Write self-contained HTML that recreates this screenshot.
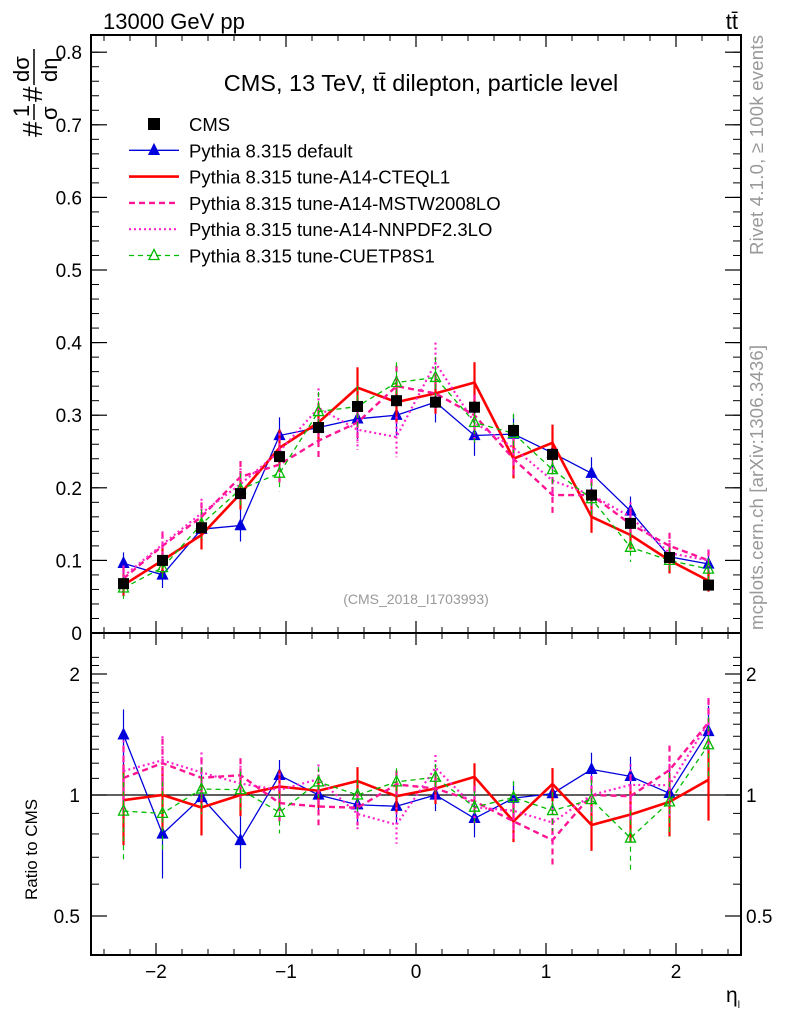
<!DOCTYPE html>
<html><head><meta charset="utf-8"><style>
body{margin:0;background:#fff;}
svg{display:block;font-family:"Liberation Sans",sans-serif;}
</style></head><body>
<svg id="chart" width="786" height="1024" viewBox="0 0 786 1024">
<rect width="786" height="1024" fill="#fff"/>
<text x="103" y="29" font-size="22">13000 GeV pp</text>
<text x="738" y="29" font-size="22" text-anchor="end">tt̄</text>
<text x="421" y="91" font-size="23.5" text-anchor="middle">CMS, 13 TeV, tt̄ dilepton, particle level</text>
<text x="416" y="604" font-size="14" fill="#999" text-anchor="middle">(CMS_2018_I1703993)</text>
<text transform="translate(763,255) rotate(-90)" font-size="18.5" fill="#999" textLength="220">Rivet 4.1.0, ≥ 100k events</text>
<text transform="translate(763,630) rotate(-90)" font-size="18.5" fill="#999" textLength="285">mcplots.cern.ch [arXiv:1306.3436]</text>
<text transform="translate(37,900) rotate(-90)" font-size="17">Ratio to CMS</text>
<g transform="translate(42,137) rotate(-90)" font-size="28">
<text x="0" y="0">#</text><text x="20" y="-13" font-size="22">1</text><line x1="17" y1="-8" x2="33" y2="-8" stroke="#000" stroke-width="1.5"/><text x="17" y="15" font-size="22">σ</text>
<text x="35" y="0">#</text><text x="55" y="-13" font-size="22">dσ</text><line x1="52" y1="-8" x2="88" y2="-8" stroke="#000" stroke-width="1.5"/><text x="55" y="15" font-size="22">dη</text>
</g>
<text x="726" y="1002" font-size="21">η<tspan font-size="10" dy="6">l</tspan></text>
<g id="plot"></g>
</svg>
<script>
const etaCenters=[-2.25,-1.95,-1.65,-1.35,-1.05,-0.75,-0.45,-0.15,0.15,0.45,0.75,1.05,1.35,1.65,1.95,2.25];
const cmsVals=[0.068,0.100,0.145,0.192,0.243,0.283,0.312,0.320,0.318,0.311,0.279,0.246,0.190,0.151,0.104,0.066];
const cmsErr=[0.006,0.006,0.007,0.008,0.008,0.008,0.008,0.008,0.008,0.008,0.008,0.008,0.008,0.007,0.006,0.006];
const defVals=[0.096,0.080,0.143,0.148,0.272,0.283,0.295,0.300,0.318,0.272,0.274,0.248,0.220,0.168,0.105,0.095];
const cteqVals=[0.066,0.100,0.135,0.192,0.255,0.290,0.338,0.318,0.330,0.345,0.240,0.262,0.160,0.135,0.100,0.072];
const mstwVals=[0.075,0.120,0.160,0.215,0.232,0.265,0.290,0.340,0.330,0.300,0.240,0.190,0.190,0.150,0.120,0.100];
const nnpdfVals=[0.078,0.122,0.165,0.205,0.250,0.310,0.280,0.270,0.372,0.290,0.255,0.210,0.190,0.160,0.110,0.100];
const cuetVals=[0.062,0.090,0.150,0.198,0.220,0.305,0.312,0.345,0.352,0.290,0.275,0.225,0.185,0.118,0.100,0.088];
const mcErr=[0.015,0.018,0.020,0.022,0.025,0.027,0.028,0.028,0.028,0.028,0.027,0.025,0.022,0.020,0.018,0.015];
const xTicks=[-2,-1,0,1,2];
const yTicks=[0,0.1,0.2,0.3,0.4,0.5,0.6,0.7,0.8];
const yTickLabels=["0","0.1","0.2","0.3","0.4","0.5","0.6","0.7","0.8"];
const rTicks=[0.5,1,2];
const rTickLabels=["0.5","1","2"];

const L=91,R=741,T=35,MB=633,RB=955;
const sx=v=>L+(v+2.5)/5*(R-L);
const sy=v=>633-v*726;
const sr=v=>795-121*Math.log2(v);
const NS="http://www.w3.org/2000/svg";
const g=document.getElementById('plot');
function mk(tag,attrs,parent){const e=document.createElementNS(NS,tag);for(const k in attrs)e.setAttribute(k,attrs[k]);(parent||g).appendChild(e);return e;}

const series=[
 {vals:defVals,color:'#0000dd',w:1.3,dash:'',marker:'tri',name:'default'},
 {vals:cteqVals,color:'#ff0000',w:2.6,dash:'',marker:'',name:'cteql1'},
 {vals:mstwVals,color:'#ff1493',w:2.4,dash:'6,4',marker:'',name:'mstw2008lo'},
 {vals:nnpdfVals,color:'#ff22cc',w:2.2,dash:'2,3',marker:'',name:'nnpdf23lo'},
 {vals:cuetVals,color:'#00bb00',w:1.3,dash:'5,4',marker:'otri',name:'cuetp8s1'}
];
function tri(x,y,c,open,parent,name){const p=mk('polygon',{points:`${x},${y-6} ${x-5},${y+4} ${x+5},${y+4}`,fill:open?'none':c,stroke:c,'stroke-width':1.3},parent);}

function drawPanel(clipId,yTop,yBot,f,ratio){
 const cp=mk('clipPath',{id:clipId});
 mk('rect',{x:L,y:yTop,width:R-L,height:yBot-yTop},cp);
 const grp=mk('g',{'clip-path':`url(#${clipId})`});
 if(ratio){const l=mk('line',{x1:L,x2:R,y1:sr(1),y2:sr(1),stroke:'#000','stroke-width':1.2},grp);}
 series.forEach(s=>{
  const sg=mk('g',{},grp);
  
  
  const val=i=>ratio?s.vals[i]/cmsVals[i]:s.vals[i];
  const err=i=>ratio?mcErr[i]/cmsVals[i]:mcErr[i];
  etaCenters.forEach((e,i)=>{
   const x=sx(e);
   const eb=mk('line',{x1:x,x2:x,y1:f(val(i)+err(i)),y2:f(Math.max(val(i)-err(i),0.01)),stroke:s.color,'stroke-width':s.w>2?2.2:1.2,'stroke-dasharray':s.dash},sg);
   
  });
  const pts=etaCenters.map((e,i)=>sx(e)+','+f(val(i))).join(' ');
  const pl=mk('polyline',{points:pts,fill:'none',stroke:s.color,'stroke-width':s.w,'stroke-dasharray':s.dash},sg);
  
  if(s.marker)etaCenters.forEach((e,i)=>tri(sx(e),f(val(i)),s.color,s.marker==='otri',sg,'marker'));
 });
 if(!ratio){
  const cg=mk('g',{},grp);
  etaCenters.forEach((e,i)=>{const x=sx(e),y=f(cmsVals[i]);
   const r=mk('rect',{x:x-5.5,y:y-5.5,width:11,height:11,fill:'#000'},cg);
   const l=mk('line',{x1:x,x2:x,y1:f(cmsVals[i]+cmsErr[i]),y2:f(cmsVals[i]-cmsErr[i]),stroke:'#000','stroke-width':1.2},cg);});
 }
}
drawPanel('c1',T,MB,sy,false);
drawPanel('c2',MB,RB,sr,true);

[[T,MB,'main-frame'],[MB,RB,'ratio-frame']].forEach(([a,b,n])=>{const r=mk('rect',{x:L,y:a,width:R-L,height:b-a,fill:'none',stroke:'#000','stroke-width':2});});
for(let v=-2.4;v<=2.41;v+=0.2){const x=sx(v);[[T,1],[MB,-1],[MB,1],[RB,-1]].forEach(([y,d])=>mk('line',{x1:x,x2:x,y1:y,y2:y+d*6,stroke:'#000','stroke-width':1}));}
xTicks.forEach(v=>{const x=sx(v);[[T,1],[MB,-1],[MB,1],[RB,-1]].forEach(([y,d])=>mk('line',{x1:x,x2:x,y1:y,y2:y+d*12,stroke:'#000','stroke-width':1.2}));
 const t=mk('text',{x:x,y:978,'font-size':19,'text-anchor':'middle'});t.textContent=(v<0?'−':'')+Math.abs(v);});
for(let v=0.02;v<0.82;v+=0.02){const y=sy(v);mk('line',{x1:L,x2:L+8,y1:y,y2:y,stroke:'#000'});mk('line',{x1:R,x2:R-8,y1:y,y2:y,stroke:'#000'});}
yTicks.forEach((v,i)=>{const y=sy(v);mk('line',{x1:L,x2:L+16,y1:y,y2:y,stroke:'#000','stroke-width':1.2});mk('line',{x1:R,x2:R-16,y1:y,y2:y,stroke:'#000','stroke-width':1.2});
 const t=mk('text',{x:82,y:y+7,'font-size':19,'text-anchor':'end'});t.textContent=yTickLabels[i];});
[0.6,0.7,0.8,0.9,1.1,1.2,1.3,1.4,1.5,1.6,1.7,1.8,1.9,2.1,2.2].forEach(v=>{const y=sr(v);mk('line',{x1:L,x2:L+8,y1:y,y2:y,stroke:'#000'});mk('line',{x1:R,x2:R-8,y1:y,y2:y,stroke:'#000'});});
rTicks.forEach((v,i)=>{const y=sr(v);mk('line',{x1:L,x2:L+16,y1:y,y2:y,stroke:'#000','stroke-width':1.2});mk('line',{x1:R,x2:R-16,y1:y,y2:y,stroke:'#000','stroke-width':1.2});
 const t=mk('text',{x:80,y:y+7,'font-size':19,'text-anchor':'end'});t.textContent=rTickLabels[i];
 const t2=mk('text',{x:746,y:y+7,'font-size':19});t2.textContent=rTickLabels[i];});
const leg=mk('g',{});
const legNames=['CMS','Pythia 8.315 default','Pythia 8.315 tune-A14-CTEQL1','Pythia 8.315 tune-A14-MSTW2008LO','Pythia 8.315 tune-A14-NNPDF2.3LO','Pythia 8.315 tune-CUETP8S1'];
legNames.forEach((n,i)=>{const y=124+i*26.3;const eg=mk('g',{},leg);
 if(i===0)mk('rect',{x:148,y:y-6,width:12,height:12,fill:'#000'},eg);
 else{const s=series[i-1];mk('line',{x1:129,x2:179,y1:y,y2:y,stroke:s.color,'stroke-width':s.w,'stroke-dasharray':s.dash},eg);if(s.marker)tri(154,y,s.color,s.marker==='otri',eg,'legend-marker');}
 const t=mk('text',{x:189,y:y+7,'font-size':18.5},eg);t.textContent=n;});
</script>
</body></html>
